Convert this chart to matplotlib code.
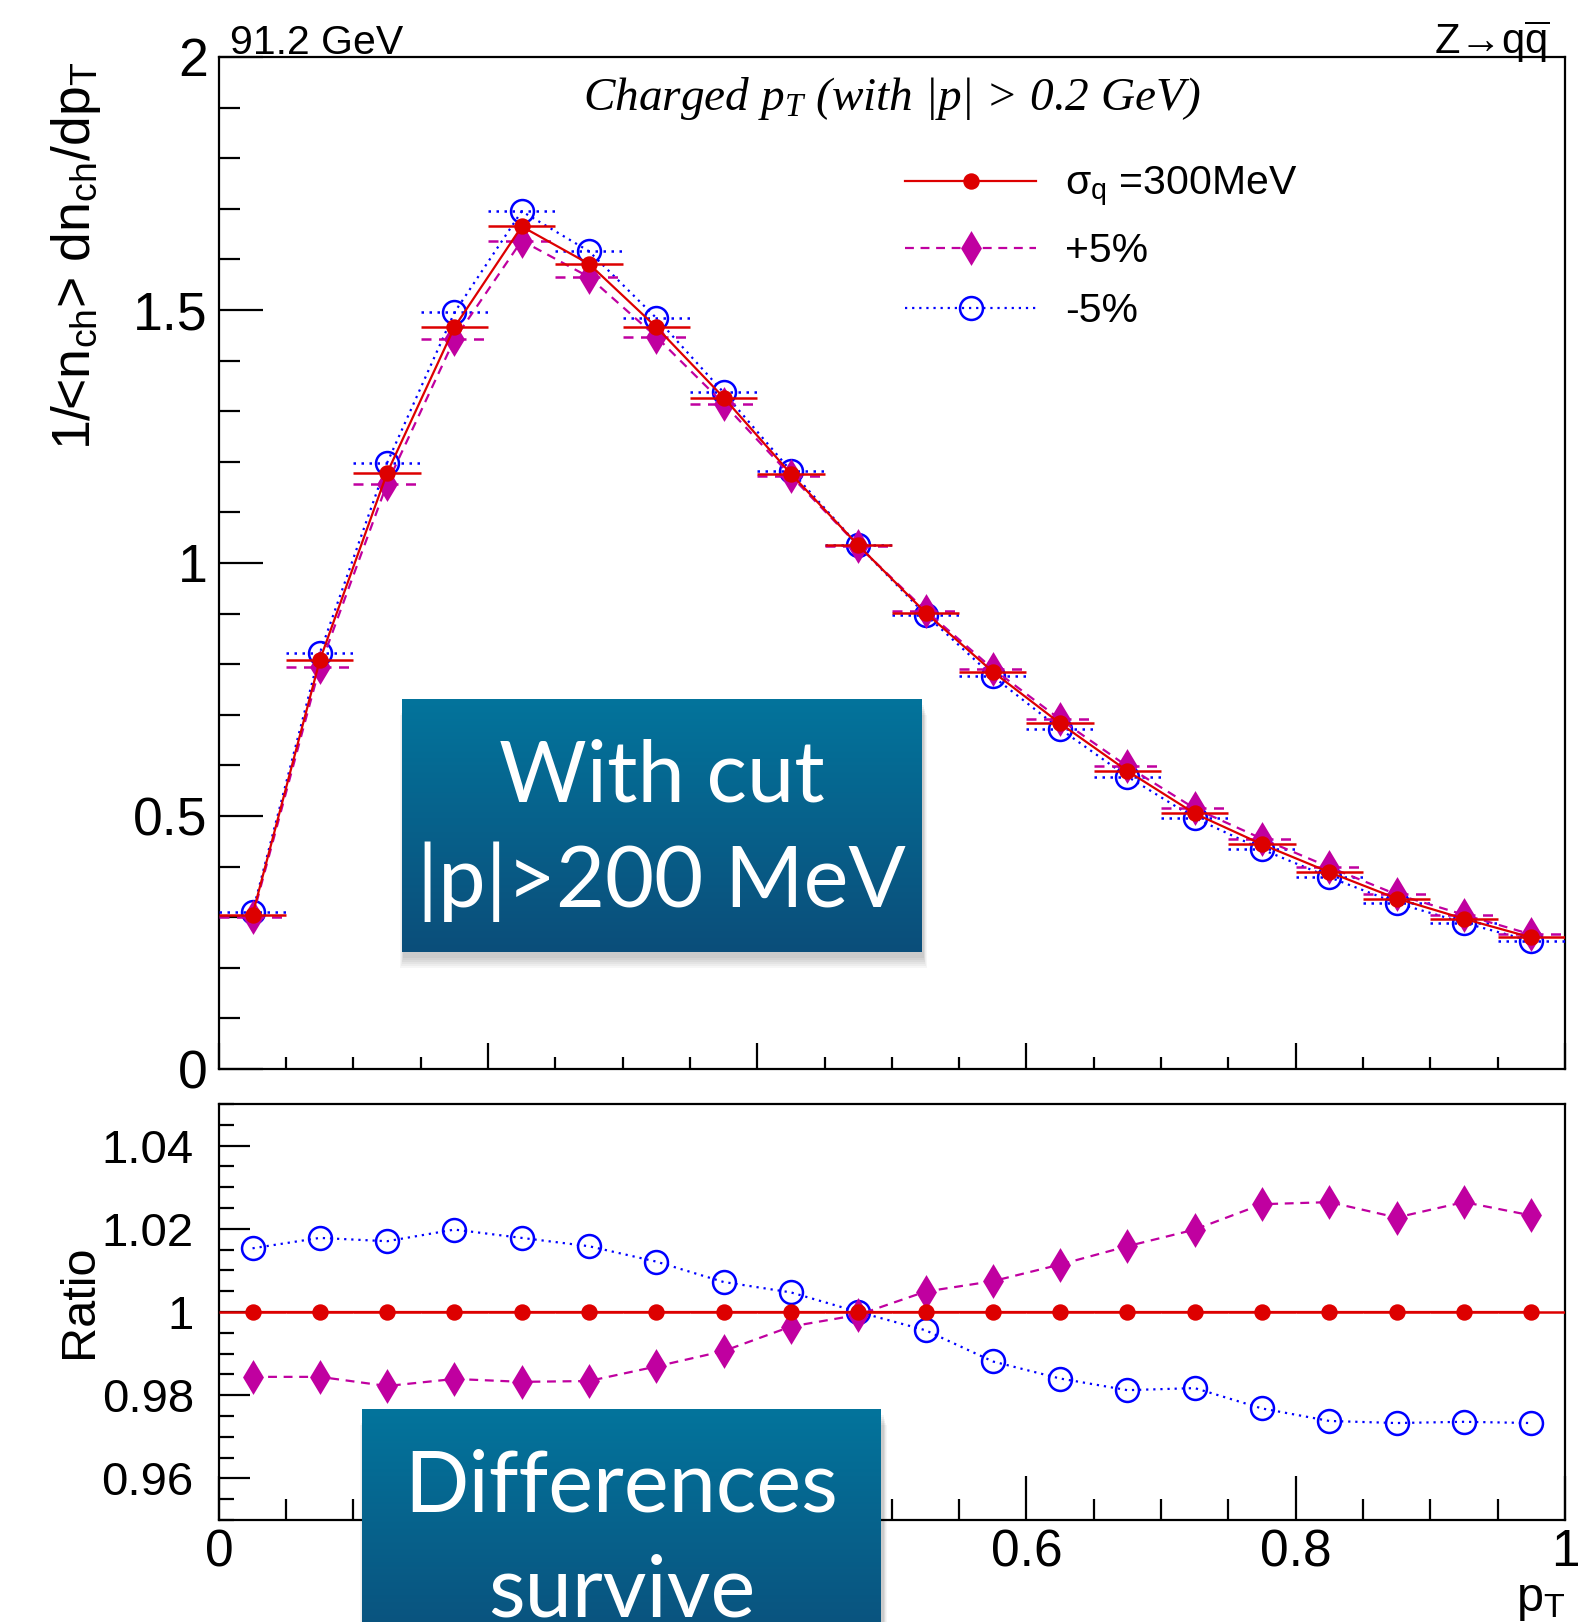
import numpy as np
import matplotlib.pyplot as plt
from matplotlib.lines import Line2D
from matplotlib.patches import Rectangle
from matplotlib.ticker import MultipleLocator, FuncFormatter

# bin centres in pT (bin width 0.05)
pt_centres = [0.025, 0.075, 0.125, 0.175, 0.225, 0.275, 0.325, 0.375, 0.425, 0.475,
              0.525, 0.575, 0.625, 0.675, 0.725, 0.775, 0.825, 0.875, 0.925, 0.975]
bin_half = 0.025

# 1/<nch> dnch/dpT
nominal = [0.305, 0.808, 1.178, 1.466, 1.665, 1.591, 1.466, 1.327, 1.176, 1.035,
           0.902, 0.785, 0.683, 0.589, 0.505, 0.444, 0.389, 0.337, 0.297, 0.260]
plus5 = [0.300, 0.795, 1.157, 1.442, 1.637, 1.565, 1.447, 1.315, 1.172, 1.034,
         0.906, 0.791, 0.691, 0.598, 0.515, 0.455, 0.399, 0.345, 0.305, 0.266]
minus5 = [0.310, 0.822, 1.198, 1.495, 1.695, 1.616, 1.484, 1.337, 1.182, 1.035,
          0.898, 0.776, 0.672, 0.578, 0.496, 0.434, 0.379, 0.328, 0.289, 0.253]

# ratios to nominal
ratio_nominal = [1.0] * 20
ratio_plus5 = [0.9844, 0.9844, 0.9822, 0.9839, 0.9832, 0.9834, 0.9869, 0.9906, 0.9965, 0.9993,
               1.0049, 1.0074, 1.0114, 1.0158, 1.0198, 1.0259, 1.0264, 1.0227, 1.0264, 1.0232]
ratio_minus5 = [1.0153, 1.0178, 1.0170, 1.0198, 1.0178, 1.0158, 1.0121, 1.0072, 1.0047, 1.0000,
                0.9956, 0.9881, 0.9840, 0.9812, 0.9817, 0.9768, 0.9738, 0.9733, 0.9736, 0.9733]

labels = ['σ$_{\\mathrm{q}}$ =300MeV', '+5%', '-5%']

plt.rcParams['font.family'] = ['Liberation Sans', 'DejaVu Sans']
plt.rcParams['mathtext.fontset'] = 'custom'
plt.rcParams['mathtext.rm'] = 'Liberation Sans'
plt.rcParams['mathtext.sf'] = 'Liberation Sans'
plt.rcParams['mathtext.it'] = 'Liberation Serif:italic'
plt.rcParams['mathtext.bf'] = 'Liberation Sans:bold'

RED = '#dd0000'
MAG = '#c000a0'
BLUE = '#0000ff'
DASH = (0, (4, 3))
DOT = (0, (1, 2.2))

# style per series: colour, linestyle, marker, size, face
styles = [
    (BLUE, DOT, 'o', 16.5, 'none'),
    (MAG, DASH, 'd', 15, MAG),
    (RED, '-', 'o', 10, RED),
]

fig = plt.figure(figsize=(15.86, 16.22), dpi=100)
ax = fig.add_axes([0.138, 0.3409, 0.8487, 0.624])
axr = fig.add_axes([0.138, 0.0629, 0.8487, 0.2565])


def draw(a, y, st, with_xerr):
    col, ls, mk, ms, mfc = st
    a.plot(pt_centres, y, color=col, ls=ls, lw=1.6, marker=mk, ms=ms,
           mfc=mfc, mec=col, mew=1.8, zorder=3)
    if with_xerr:
        eb = a.errorbar(pt_centres, y, xerr=bin_half, fmt='none', ecolor=col,
                        elinewidth=1.8, zorder=3)
        eb[2][0].set_linestyle(ls)


draw(ax, minus5, styles[0], True)
draw(ax, plus5, styles[1], True)
draw(ax, nominal, styles[2], True)

draw(axr, ratio_minus5, styles[0], False)
draw(axr, ratio_plus5, styles[1], False)
draw(axr, ratio_nominal, styles[2], True)

fmt = FuncFormatter(lambda v, p: '%g' % round(v, 4))
for a in (ax, axr):
    a.set_xlim(0, 1)
    a.xaxis.set_major_locator(MultipleLocator(0.2))
    a.xaxis.set_minor_locator(MultipleLocator(0.05))
    a.xaxis.set_major_formatter(fmt)
    a.yaxis.set_major_formatter(fmt)
    for s in a.spines.values():
        s.set_linewidth(1.6)
    a.tick_params(which='both', direction='in', top=False, right=False, width=1.6)

ax.set_ylim(0, 2)
ax.yaxis.set_major_locator(MultipleLocator(0.5))
ax.yaxis.set_minor_locator(MultipleLocator(0.1))
ax.tick_params(axis='y', which='major', length=32, labelsize=38.5, pad=8)
ax.tick_params(axis='y', which='minor', length=15)
ax.tick_params(axis='x', which='major', length=19, labelbottom=False)
ax.tick_params(axis='x', which='minor', length=9)

axr.set_ylim(0.95, 1.05)
axr.yaxis.set_major_locator(MultipleLocator(0.02))
axr.yaxis.set_minor_locator(MultipleLocator(0.005))
axr.tick_params(axis='y', which='major', length=22, labelsize=34, pad=18)
axr.tick_params(axis='y', which='minor', length=11)
axr.tick_params(axis='x', which='major', length=32, labelsize=37, pad=6)
axr.tick_params(axis='x', which='minor', length=15)

# legend
handles = [Line2D([], [], color=c, ls=l, lw=1.6, marker=m, ms=s, mfc=f, mec=c, mew=1.8)
           for c, l, m, s, f in reversed(styles)]
ax.legend(handles, labels, loc='upper left', bbox_to_anchor=(0.51, 0.893), frameon=False,
          fontsize=29.5, handlelength=3.2, handletextpad=0.7, labelspacing=0.55,
          borderaxespad=0, borderpad=0)

# texts
ax.text(0.5, 0.948, 'Charged p$_{T}$ (with |p| > 0.2 GeV)', transform=ax.transAxes,
        ha='center', va='baseline', fontsize=34, family='Liberation Serif', style='italic')
fig.text(230 / 1586, 1 - 54 / 1622, '91.2 GeV', fontsize=29.5, va='baseline', ha='left')
fig.text(1549 / 1586, 1 - 54 / 1622, 'Z→q$\\overline{\\mathrm{q}}$', fontsize=30,
         va='baseline', ha='right')
fig.text(76 / 1586, 1 - 62 / 1622, '1/<n$_{\\mathrm{ch}}$> dn$_{\\mathrm{ch}}$/dp$_{\\mathrm{T}}$',
         rotation=90, ha='center', va='top', fontsize=38.5)
fig.text(80 / 1586, 1 - 1245 / 1622, 'Ratio', rotation=90, ha='center', va='top', fontsize=35)
fig.text(1565 / 1586, 1 - 1578 / 1622, 'p$_{\\mathrm{T}}$', ha='right', va='top', fontsize=35)

# gradient call-out boxes
grad = np.linspace(0, 1, 256).reshape(-1, 1)
top_rgb = np.array([3, 116, 156]) / 255
bot_rgb = np.array([11, 78, 122]) / 255
img = top_rgb[None, None, :] * (1 - grad[:, :, None]) + bot_rgb[None, None, :] * grad[:, :, None]


def callout(left, top, lines):
    w, h = 519 / 1586, 253 / 1622
    l, b = left / 1586, 1 - top / 1622 - h
    for k in range(6):
        off = (k + 1) * 2.0
        fig.patches.append(Rectangle((l + 2 / 1586 - off / 1586 * 0.3, b - (4 + off) / 1622),
                                     w + off * 0.6 / 1586, h, transform=fig.transFigure,
                                     color='black', alpha=0.035, lw=0, zorder=5))
    bx = fig.add_axes([l, b, w, h], zorder=10)
    bx.imshow(img, aspect='auto', extent=(0, 1, 0, 1))
    bx.set_axis_off()
    bx.text(0.5, 0.593, lines[0], color='white', fontsize=61, family='Lato',
            weight='normal', ha='center', va='baseline')
    bx.text(0.5, 0.178, lines[1], color='white', fontsize=61, family='Lato',
            weight='normal', ha='center', va='baseline')


callout(402, 699, ['With cut', '|p|>200 MeV'])
callout(362, 1409, ['Differences', 'survive'])

fig.savefig('out.png', dpi=100)
